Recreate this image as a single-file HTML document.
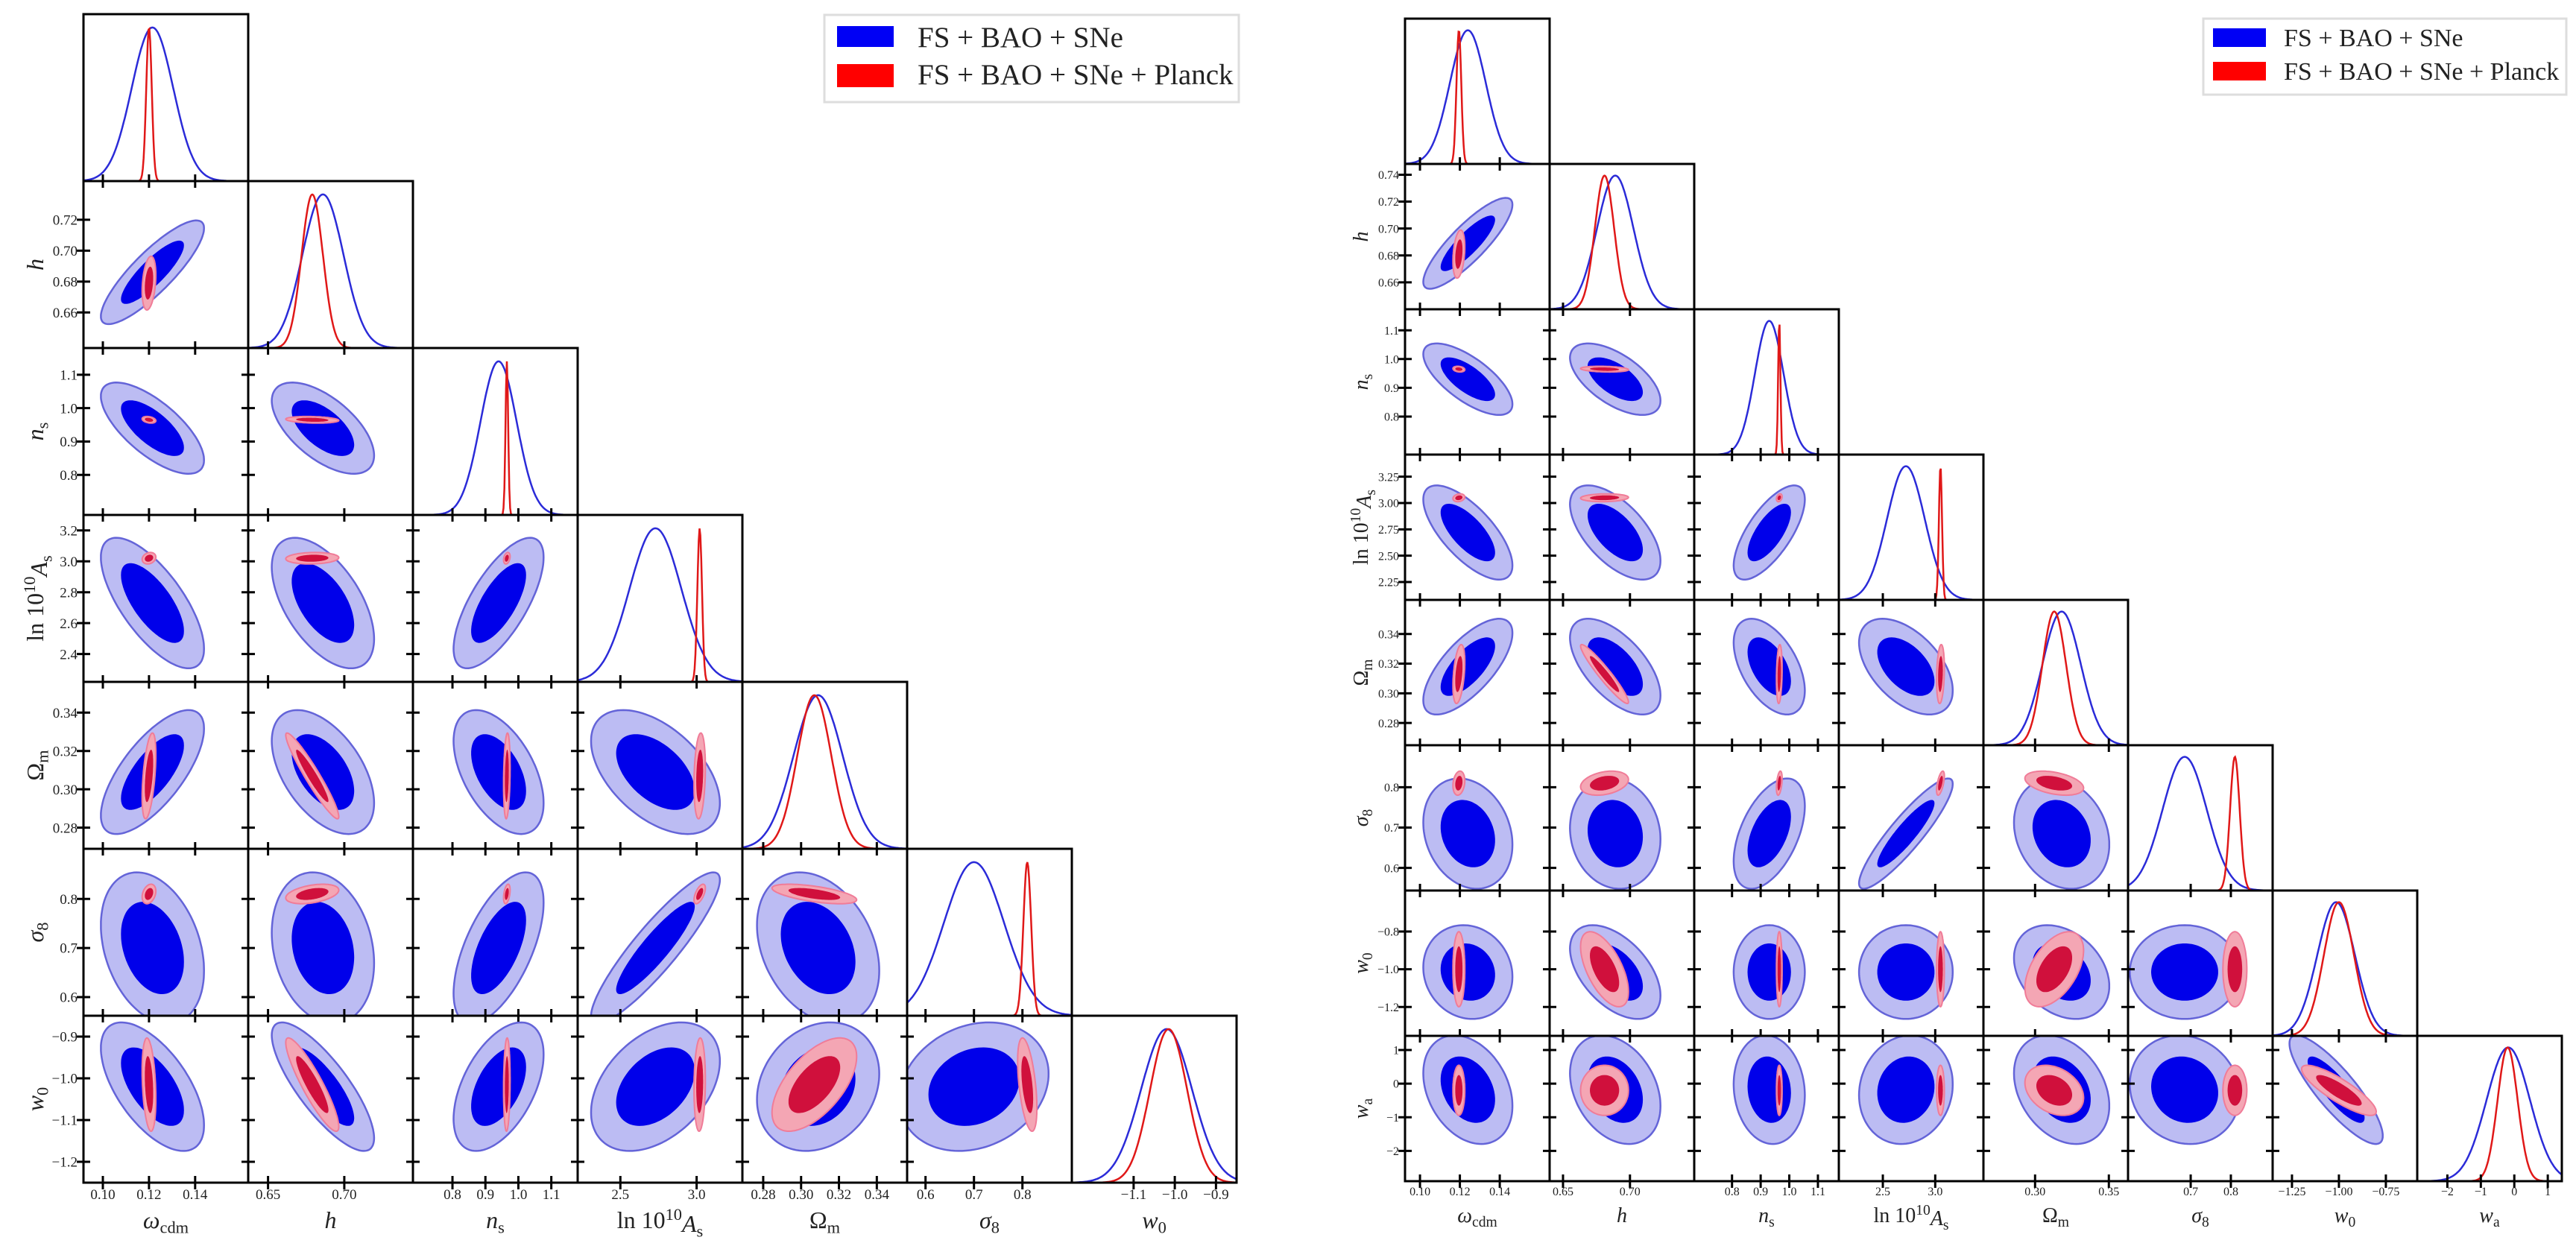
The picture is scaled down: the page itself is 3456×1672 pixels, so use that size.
<!DOCTYPE html>
<html><head><meta charset="utf-8"><style>
html,body{margin:0;padding:0;background:#fff;}
svg{display:block;}
text{font-family:"Liberation Serif","DejaVu Serif",serif;fill:#222;}
</style></head><body>
<svg id="chart" xmlns="http://www.w3.org/2000/svg" width="3456" height="1672" viewBox="0 0 3456 1672">
<defs id="defs"></defs>
<g id="left"></g>
<g id="right"></g>
<g>
<rect x="1106" y="20" width="556" height="117" fill="#fff" stroke="#ddd" stroke-width="3"/>
<rect x="1123" y="35" width="76" height="28" fill="#0000f5"/>
<rect x="1123" y="86" width="76" height="31" fill="#ff0000"/>
<text x="1231" y="63" font-size="39">FS + BAO + SNe</text>
<text x="1231" y="113" font-size="39">FS + BAO + SNe + Planck</text>
</g>
<g>
<rect x="2956" y="25" width="487" height="102" fill="#fff" stroke="#ddd" stroke-width="3"/>
<rect x="2969" y="38" width="71" height="25" fill="#0000f5"/>
<rect x="2969" y="83" width="71" height="25" fill="#ff0000"/>
<text x="3064" y="62" font-size="34">FS + BAO + SNe</text>
<text x="3064" y="107" font-size="34">FS + BAO + SNe + Planck</text>
</g>
</svg>
<script>
// ---------------- LEFT data ----------------
const paramsL = ["omega_cdm","h","n_s","ln10As","Omega_m","sigma8","w0"];
const rangesL = [[0.0916,0.163],[0.637,0.745],[0.68,1.18],[2.22,3.30],[0.269,0.356],[0.562,0.902],[-1.25,-0.85]];
const xTicksL = [[0.10,0.12,0.14],[0.65,0.70],[0.8,0.9,1.0,1.1],[2.5,3.0],[0.28,0.30,0.32,0.34],[0.6,0.7,0.8],[-1.1,-1.0,-0.9]];
const xTickLabelsL = [["0.10","0.12","0.14"],["0.65","0.70"],["0.8","0.9","1.0","1.1"],["2.5","3.0"],["0.28","0.30","0.32","0.34"],["0.6","0.7","0.8"],["−1.1","−1.0","−0.9"]];
const yTicksL = [[],[0.66,0.68,0.70,0.72],[0.8,0.9,1.0,1.1],[2.4,2.6,2.8,3.0,3.2],[0.28,0.30,0.32,0.34],[0.6,0.7,0.8],[-1.2,-1.1,-1.0,-0.9]];
const yTickLabelsL = [[],["0.66","0.68","0.70","0.72"],["0.8","0.9","1.0","1.1"],["2.4","2.6","2.8","3.0","3.2"],["0.28","0.30","0.32","0.34"],["0.6","0.7","0.8"],["−1.2","−1.1","−1.0","−0.9"]];
const blueMeanL = [0.1215,0.686,0.94,2.73,0.309,0.70,-1.02];
const blueSigL  = [0.009,0.0135,0.055,0.17,0.013,0.062,0.062];
const redMeanL  = [0.120,0.679,0.965,3.02,0.307,0.81,-1.015];
const redSigL   = [0.0012,0.007,0.004,0.015,0.009,0.008,0.045];
const blueCorrL = [[],[0.85],[-0.7,-0.6],[-0.7,-0.55,0.7],[0.7,-0.5,-0.5,-0.5],[-0.3,-0.2,0.6,0.9,-0.3],[-0.6,-0.8,0.5,0.4,0.2,0.2]];
const redCorrL  = [[],[0.3],[-0.3,-0.2],[0.2,0.1,0.3],[0.5,-0.95,0.2,0.2],[0.3,0.4,0.4,0.6,-0.6],[-0.3,-0.9,0.1,0.1,0.6,-0.5]];

// ---------------- RIGHT data ----------------
const paramsR = ["omega_cdm","h","n_s","ln10As","Omega_m","sigma8","w0","wa"];
const rangesR = [[0.0925,0.165],[0.640,0.748],[0.668,1.173],[2.08,3.46],[0.265,0.363],[0.544,0.904],[-1.353,-0.583],[-2.9,1.42]];
const xTicksR = [[0.10,0.12,0.14],[0.65,0.70],[0.8,0.9,1.0,1.1],[2.5,3.0],[0.30,0.35],[0.7,0.8],[-1.25,-1.0,-0.75],[-2,-1,0,1]];
const xTickLabelsR = [["0.10","0.12","0.14"],["0.65","0.70"],["0.8","0.9","1.0","1.1"],["2.5","3.0"],["0.30","0.35"],["0.7","0.8"],["−1.25","−1.00","−0.75"],["−2","−1","0","1"]];
const yTicksR = [[],[0.66,0.68,0.70,0.72,0.74],[0.8,0.9,1.0,1.1],[2.25,2.5,2.75,3.0,3.25],[0.28,0.30,0.32,0.34],[0.6,0.7,0.8],[-1.2,-1.0,-0.8],[-2,-1,0,1]];
const yTickLabelsR = [[],["0.66","0.68","0.70","0.72","0.74"],["0.8","0.9","1.0","1.1"],["2.25","2.50","2.75","3.00","3.25"],["0.28","0.30","0.32","0.34"],["0.6","0.7","0.8"],["−1.2","−1.0","−0.8"],["−2","−1","0","1"]];
const blueMeanR = [0.124,0.689,0.93,2.72,0.318,0.685,-1.015,-0.18];
const blueSigR  = [0.009,0.0136,0.05,0.18,0.013,0.055,0.1,0.65];
const redMeanR  = [0.1195,0.681,0.965,3.05,0.313,0.81,-1.0,-0.2];
const redSigR   = [0.0012,0.0072,0.004,0.015,0.008,0.012,0.08,0.3];
const blueCorrR = [[],[0.85],[-0.7,-0.6],[-0.7,-0.6,0.7],[0.7,-0.6,-0.5,-0.5],[-0.2,-0.1,0.5,0.9,-0.2],[-0.1,-0.5,0.0,0.0,-0.3,0.0],[-0.3,-0.3,-0.1,0.1,-0.3,-0.1,-0.85]];
const redCorrR  = [[],[0.3],[-0.2,-0.2],[0.2,0.1,0.3],[0.4,-0.95,0.2,0.2],[0.2,0.3,0.4,0.6,-0.4],[0.0,-0.6,0.0,0.0,0.5,0.0],[0.0,0.0,0.0,0.0,-0.3,0.0,-0.85]];

const labelHTML = {
  omega_cdm:'<tspan font-style="italic">ω</tspan><tspan font-size="0.7em" dy="0.3em">cdm</tspan>',
  h:'<tspan font-style="italic">h</tspan>',
  n_s:'<tspan font-style="italic">n</tspan><tspan font-size="0.7em" dy="0.3em">s</tspan>',
  ln10As:'ln 10<tspan font-size="0.7em" dy="-0.5em">10</tspan><tspan font-style="italic" dy="0.5em">A</tspan><tspan font-size="0.7em" dy="0.3em">s</tspan>',
  Omega_m:'Ω<tspan font-size="0.7em" dy="0.3em">m</tspan>',
  sigma8:'<tspan font-style="italic">σ</tspan><tspan font-size="0.7em" dy="0.3em">8</tspan>',
  w0:'<tspan font-style="italic">w</tspan><tspan font-size="0.7em" dy="0.3em">0</tspan>',
  wa:'<tspan font-style="italic">w</tspan><tspan font-size="0.7em" dy="0.3em">a</tspan>'
};

const NS = "http://www.w3.org/2000/svg";
function mk(tag, attrs, parent){
  const e = document.createElementNS(NS, tag);
  for (const k in attrs) e.setAttribute(k, attrs[k]);
  if (parent) parent.appendChild(e);
  return e;
}

function drawTriangle(root, side, P){
  const n = P.params.length;
  const defs = document.getElementById('defs');
  function xs(j, v){ const r=P.ranges[j]; return P.x0 + j*P.w + (v-r[0])/(r[1]-r[0])*P.w; }
  function ys(i, v){ const r=P.ranges[i]; return P.y0 + (i+1)*P.h - (v-r[0])/(r[1]-r[0])*P.h; }

  function ellipse(g, i, j, mean, sig, corr, k, fill, stroke, sw, name){
    const rho = corr[i][j];
    const s = Math.sqrt(k);
    let d = "";
    for (let t=0; t<=120; t++){
      const a = t/120*2*Math.PI;
      const u = Math.cos(a), v = Math.sin(a);
      const vx = mean[j] + s*sig[j]*u;
      const vy = mean[i] + s*sig[i]*(rho*u + Math.sqrt(1-rho*rho)*v);
      d += (t? "L":"M") + xs(j,vx).toFixed(1) + "," + ys(i,vy).toFixed(1);
    }
    const p = mk('path', {d:d+"Z", fill:fill, stroke:stroke, 'stroke-width':sw}, g);
    
    
  }

  function curve(g, i, mean, sig, color, name){
    const r = P.ranges[i];
    let d = "";
    const top = P.y0 + i*P.h, bot = top + P.h;
    for (let t=0; t<=200; t++){
      const v = r[0] + (r[1]-r[0])*t/200;
      const z = (v-mean[i])/sig[i];
      const y = bot - (P.h*0.92)*Math.exp(-0.5*z*z);
      d += (t? "L":"M") + xs(i,v).toFixed(1) + "," + y.toFixed(1);
    }
    const p = mk('path', {d:d, fill:'none', stroke:color, 'stroke-width':2.5}, g);
    
    
  }

  for (let i=0; i<n; i++){
    for (let j=0; j<=i; j++){
      const px = P.x0 + j*P.w, py = P.y0 + i*P.h;
      const cid = side+"clip"+i+"_"+j;
      const cp = mk('clipPath', {id:cid}, defs);
      mk('rect', {x:px, y:py, width:P.w, height:P.h}, cp);
      const g = mk('g', {'clip-path':'url(#'+cid+')'}, root);
      
      
      if (i===j){
        curve(g, i, P.bm, P.bs, '#2b2bd8', 'blue-marginal-'+P.params[i]);
        curve(g, i, P.rm, P.rs, '#e01818', 'red-marginal-'+P.params[i]);
      } else {
        ellipse(g, i, j, P.bm, P.bs, P.bc, 6.17, '#bcbcf3', '#6464d8', 2.5, 'blue-contour-95');
        ellipse(g, i, j, P.bm, P.bs, P.bc, 2.30, '#0000ea', 'none', 0, 'blue-contour-68');
        ellipse(g, i, j, P.rm, P.rs, P.rc, 6.17, '#f4a6b4', '#f07c98', 2, 'red-contour-95');
        ellipse(g, i, j, P.rm, P.rs, P.rc, 2.30, '#d0103c', 'none', 0, 'red-contour-68');
      }
      const fr = mk('rect', {x:px, y:py, width:P.w, height:P.h, fill:'none', stroke:'#000', 'stroke-width':3}, root);
      
      
      P.xt[j].forEach((v, k) => {
        const x = xs(j, v);
        const tk = mk('line', {x1:x, x2:x, y1:py+P.h-9, y2:py+P.h+9, stroke:'#000', 'stroke-width':3}, root);
        
        
        if (i===n-1){
          const tl = mk('text', {x:x, y:P.xTickY, 'font-size':P.tickFont, 'text-anchor':'middle'}, root);
          tl.textContent = P.xtl[j][k];
          
          
        }
      });
      if (i!==j){
        P.yt[i].forEach((v, k) => {
          const y = ys(i, v);
          const tk = mk('line', {x1:px-9, x2:px+9, y1:y, y2:y, stroke:'#000', 'stroke-width':3}, root);
          
          
          if (j===0){
            const tl = mk('text', {x:px-8, y:y+P.tickFont*0.35, 'font-size':P.tickFont, 'text-anchor':'end'}, root);
            tl.textContent = P.ytl[i][k];
            
            
          }
        });
      }
    }
    const xt = mk('text', {x:P.x0 + i*P.w + P.w/2, y:P.xLabelY, 'font-size':P.labelFont, 'text-anchor':'middle'}, root);
    xt.innerHTML = labelHTML[P.params[i]];
    
    
    if (i>0){
      const cy = P.y0 + i*P.h + P.h/2;
      const yt = mk('text', {x:0, y:0, 'font-size':P.labelFont, 'text-anchor':'middle', transform:'translate('+P.yLabelX+','+cy+') rotate(-90)'}, root);
      yt.innerHTML = labelHTML[P.params[i]];
      
      
    }
  }
}

drawTriangle(document.getElementById('left'), 'L', {
  params:paramsL, ranges:rangesL, xt:xTicksL, xtl:xTickLabelsL, yt:yTicksL, ytl:yTickLabelsL,
  bm:blueMeanL, bs:blueSigL, rm:redMeanL, rs:redSigL, bc:blueCorrL, rc:redCorrL,
  x0:112, y0:19, w:221, h:224, tickFont:19, labelFont:32, xTickY:1609, xLabelY:1648, yLabelX:58
});
drawTriangle(document.getElementById('right'), 'R', {
  params:paramsR, ranges:rangesR, xt:xTicksR, xtl:xTickLabelsR, yt:yTicksR, ytl:yTickLabelsR,
  bm:blueMeanR, bs:blueSigR, rm:redMeanR, rs:redSigR, bc:blueCorrR, rc:redCorrR,
  x0:1885, y0:25, w:194, h:195, tickFont:16, labelFont:28, xTickY:1604, xLabelY:1640, yLabelX:1835
});
</script>
</body></html>
